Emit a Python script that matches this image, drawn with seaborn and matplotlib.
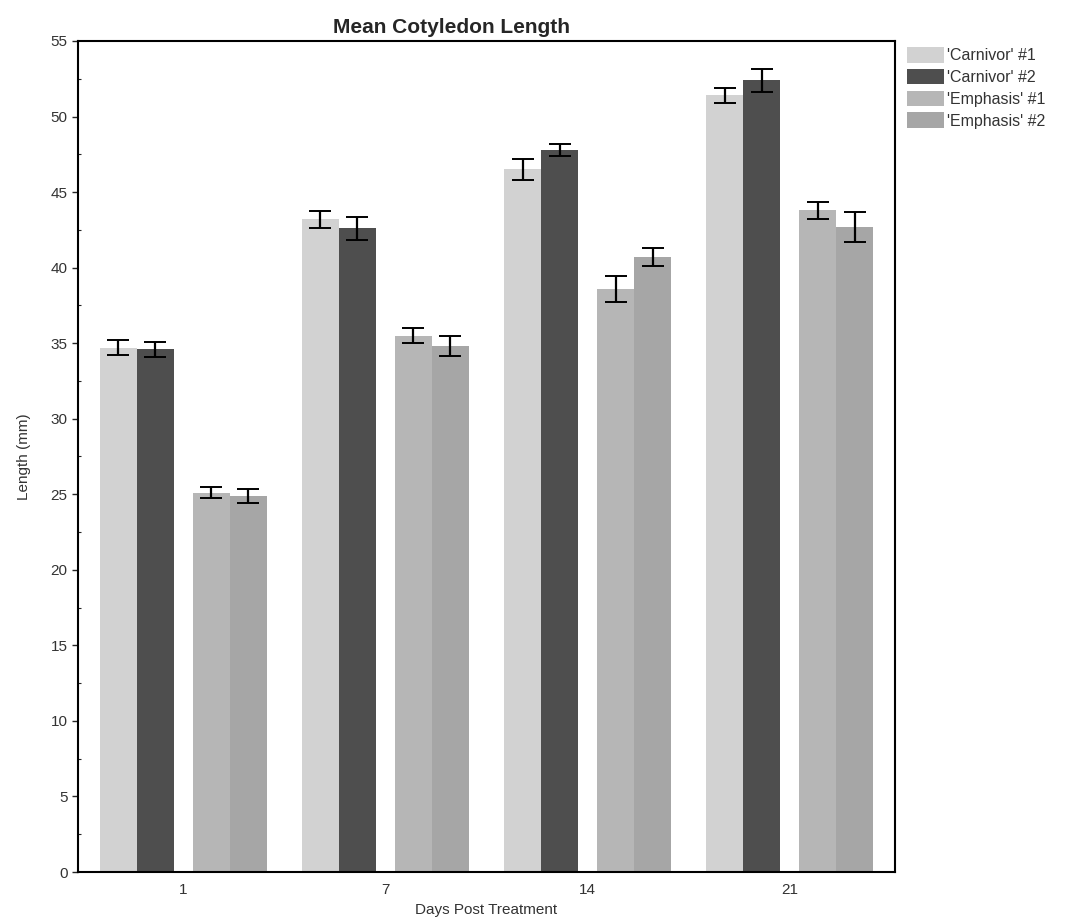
import pandas as pd
import matplotlib
matplotlib.use("Agg")
import matplotlib.pyplot as plt
import seaborn as sns

# data
days = ["1", "7", "14", "21"]
varieties = ["'Carnivor' #1", "'Carnivor' #2", "'Emphasis' #1", "'Emphasis' #2"]
carnivor1 = [34.7, 43.2, 46.5, 51.4]
carnivor2 = [34.6, 42.6, 47.8, 52.4]
emphasis1 = [25.1, 35.5, 38.6, 43.8]
emphasis2 = [24.9, 34.8, 40.7, 42.7]
err_c1 = [0.5, 0.55, 0.7, 0.5]
err_c2 = [0.5, 0.75, 0.4, 0.75]
err_e1 = [0.35, 0.5, 0.85, 0.55]
err_e2 = [0.45, 0.65, 0.6, 1.0]

colors = ["#d2d2d2", "#4e4e4e", "#b6b6b6", "#a6a6a6"]

rows = []
for var, vals, errs in zip(varieties, [carnivor1, carnivor2, emphasis1, emphasis2],
                           [err_c1, err_c2, err_e1, err_e2]):
    for d, v, e in zip(days, vals, errs):
        rows.append({"day": d, "variety": var, "length": v, "err": e})
df = pd.DataFrame(rows)

sns.set_style("white")
plt.rcParams["font.family"] = ["Liberation Sans", "DejaVu Sans"]

fig = plt.figure(figsize=(10.65, 9.21), dpi=100)
ax = fig.add_axes([78 / 1065, 49 / 921, (895 - 78) / 1065, (872 - 41) / 921])

bar_w = 0.183
mid_gap = 0.094
sns.barplot(data=df, x="day", y="length", hue="variety", order=days, hue_order=varieties,
            palette=colors, width=bar_w * 4, errorbar=None, saturation=1,
            linewidth=0, ax=ax)

# split each group into a Carnivor pair and an Emphasis pair
bar_conts = list(ax.containers)[:4]
for i, cont in enumerate(bar_conts):
    shift = -mid_gap / 2 if i < 2 else mid_gap / 2
    sub = df[df["variety"] == varieties[i]].set_index("day").loc[days]
    xs = []
    for p in cont.patches:
        p.set_x(p.get_x() + shift)
        xs.append(p.get_x() + p.get_width() / 2)
    ax.errorbar(xs, sub["length"], yerr=sub["err"], fmt="none", ecolor="black",
                elinewidth=1.6, capsize=8, capthick=1.4, zorder=5)

ax.set_xlim(-0.52, 3.52)
ax.set_ylim(0, 55)
ax.set_yticks(range(0, 56, 5))
ax.set_yticks([y + 2.5 for y in range(0, 55, 5)], minor=True)
ax.tick_params(axis="y", which="major", length=4, width=1, direction="out",
               labelsize=11, labelcolor="#333333", left=True)
ax.tick_params(axis="y", which="minor", length=2, width=0.8, direction="in", left=True)
ax.tick_params(axis="x", length=0, labelsize=11, labelcolor="#333333", pad=8)

for s in ax.spines.values():
    s.set_visible(True)
    s.set_color("black")
    s.set_linewidth(1.5)

ax.set_xlabel("Days Post Treatment", fontsize=11, color="#333333", labelpad=4)
ax.set_ylabel("Length (mm)", fontsize=11, color="#333333", labelpad=14)
ax.set_title("Mean Cotyledon Length", fontsize=15, fontweight="bold", x=0.457, pad=6)

ax.legend(loc="upper left", bbox_to_anchor=(1.007, 1.0), frameon=False, fontsize=11.5,
          handlelength=2.3, handleheight=1.1, handletextpad=0.2, labelspacing=0.35,
          borderaxespad=0.0, labelcolor="#333333")

fig.savefig("out.png", dpi=100)
